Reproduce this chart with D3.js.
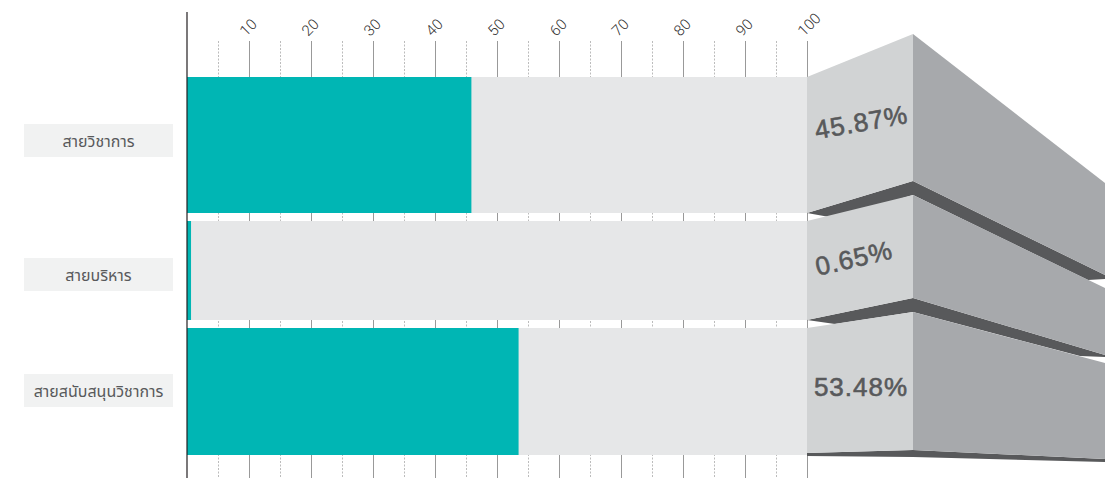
<!DOCTYPE html>
<html><head><meta charset="utf-8">
<script src="https://cdn.jsdelivr.net/npm/d3@7"></script>
<style>
html,body{margin:0;padding:0;background:#fff;}
svg{display:block;}
</style></head>
<body>
<svg id="chart" width="1114" height="478"></svg>
<script>
// ---- data ----
const categories = ["สายวิชาการ", "สายบริหาร", "สายสนับสนุนวิชาการ"];
const values = [45.87, 0.65, 53.48];
const valueLabels = ["45.87%", "0.65%", "53.48%"];
const majorTicks = [10, 20, 30, 40, 50, 60, 70, 80, 90, 100];
const minorTicks = [5, 15, 25, 35, 45, 55, 65, 75, 85, 95];

// ---- layout (not data) ----
const rows = [ {y0: 77, y1: 213}, {y0: 221, y1: 320}, {y0: 328, y1: 455} ];
const labelBoxes = [ {y0:124, y1:157}, {y0:258, y1:291}, {y0:374, y1:407} ];
const X0 = 807, XM = 913, XR = 1105;
const blocks = [
  {lt:77, mt:34, rt:183, lb:213, mb:181, rb:275,
   band:[[XR,279],[1088,280],[XM,195],[835,218]]},
  {lt:221, mt:195, rt:288, lb:320, mb:298, rb:355,
   band:[[XR,357],[1080,356],[XM,312],[835,324]]},
  {lt:328, mt:312, rt:363, lb:453, mb:450, rb:459,
   band:[[XR,462],[XM,457],[X0,456]]}
];
const textPos = [ {x:863, y:131, r:-10}, {x:856, y:267, r:-13}, {x:861, y:396, r:0} ];

const svg = d3.select("#chart");
const x = d3.scaleLinear().domain([0, 100]).range([187, 807]);

// gridlines
const grid = svg.append("g");
grid.selectAll("line.minor").data(minorTicks).join("line")
  .attr("class","minor")
  .attr("x1", d => x(d) + 0.5).attr("x2", d => x(d) + 0.5)
  .attr("y1", 41).attr("y2", 478)
  .attr("stroke", "#bcbcbc").attr("stroke-width", 1).attr("stroke-dasharray", "2,1.5");
grid.selectAll("line.major").data(majorTicks).join("line")
  .attr("class","major")
  .attr("x1", d => x(d) + 0.5).attr("x2", d => x(d) + 0.5)
  .attr("y1", 41).attr("y2", 478)
  .attr("stroke", "#999999").attr("stroke-width", 1);

// top axis labels (rotated)
svg.append("g").selectAll("text").data(majorTicks).join("text")
  .attr("transform", d => `translate(${x(d) - 3},${37}) rotate(-45)`)
  .attr("text-anchor", "start")
  .attr("font-family", "Roboto, 'Liberation Sans', sans-serif")
  .attr("font-weight", 300)
  .attr("font-size", 15)
  .attr("fill", "#303030")
  .text(d => d);

// background bars
svg.append("g").selectAll("rect").data(categories).join("rect")
  .attr("x", x(0)).attr("width", x(100) - x(0))
  .attr("y", (d,i) => rows[i].y0).attr("height", (d,i) => rows[i].y1 - rows[i].y0)
  .attr("fill", "#e6e7e8");

// value bars
svg.append("g").selectAll("rect").data(values).join("rect")
  .attr("x", x(0)).attr("width", d => x(d) - x(0))
  .attr("y", (d,i) => rows[i].y0).attr("height", (d,i) => rows[i].y1 - rows[i].y0)
  .attr("fill", "#00b6b4");

// 3D blocks
const g3 = svg.append("g");
const line = d3.line();
blocks.forEach((b) => {
  g3.append("path").attr("d", line([[X0,b.lb],[XM,b.mb],[XR,b.rb]].concat(b.band)) + "Z")
    .attr("fill", "#58595b");
  g3.append("path").attr("d", line([[X0,b.lt],[XM,b.mt],[XM,b.mb],[X0,b.lb]]) + "Z")
    .attr("fill", "#d1d3d4");
  g3.append("path").attr("d", line([[XM,b.mt],[XR,b.rt],[XR,b.rb],[XM,b.mb]]) + "Z")
    .attr("fill", "#a7a9ac");
});

// value labels
svg.append("g").selectAll("text").data(valueLabels).join("text")
  .attr("transform", (d,i) => `translate(${textPos[i].x},${textPos[i].y}) rotate(${textPos[i].r})`)
  .attr("text-anchor", "middle")
  .attr("font-family", "'Liberation Sans', Arial, sans-serif")
  .attr("font-size", 26)
  .attr("letter-spacing", 1)
  .attr("fill", "#58595b")
  .attr("stroke", "#58595b")
  .attr("stroke-width", 0.6)
  .text(d => d);

// axis line
svg.append("line").attr("x1", 187).attr("x2", 187).attr("y1", 12).attr("y2", 478)
  .attr("stroke", "#231f20").attr("stroke-width", 1.2);

// category label boxes
const lg = svg.append("g");
lg.selectAll("rect").data(categories).join("rect")
  .attr("x", 24).attr("width", 149)
  .attr("y", (d,i) => labelBoxes[i].y0).attr("height", (d,i) => labelBoxes[i].y1 - labelBoxes[i].y0)
  .attr("fill", "#f1f2f2");
lg.selectAll("text").data(categories).join("text")
  .attr("x", 98.5)
  .attr("y", (d,i) => (labelBoxes[i].y0 + labelBoxes[i].y1) / 2 + 6)
  .attr("text-anchor", "middle")
  .attr("font-family", "'Noto Sans Thai', 'Noto Sans', 'DejaVu Sans', sans-serif")
  .attr("font-size", 16)
  .attr("fill", "#58595b")
  .text(d => d);
</script>
</body></html>
